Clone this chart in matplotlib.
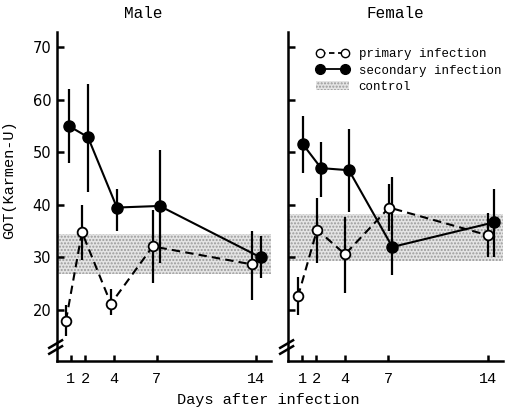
import matplotlib.pyplot as plt
from matplotlib.lines import Line2D
from matplotlib.patches import Patch

days = [1, 2, 4, 7, 14]

# male (x positions are slightly staggered around each day)
male_prim_x = [0.65, 1.77, 3.8, 6.73, 13.66]
male_prim = [18.0, 34.8, 21.2, 32.1, 28.7]
male_prim_lo = [15.0, 29.5, 19.0, 25.2, 22.0]
male_prim_hi = [21.0, 40.0, 24.0, 39.0, 35.0]

male_sec_x = [0.86, 2.19, 4.22, 7.22, 14.3]
male_sec = [55.0, 52.9, 39.5, 39.8, 30.0]
male_sec_lo = [48.0, 42.5, 35.0, 29.0, 26.0]
male_sec_hi = [62.0, 63.0, 43.0, 50.4, 34.0]

male_control = (26.8, 34.4)

# female
fem_prim_x = [0.72, 2.05, 4.0, 7.08, 14.0]
fem_prim = [22.6, 35.3, 30.6, 39.5, 34.2]
fem_prim_lo = [19.1, 29.0, 23.3, 35.0, 30.0]
fem_prim_hi = [26.2, 41.4, 37.7, 44.0, 38.4]

fem_sec_x = [1.07, 2.33, 4.27, 7.3, 14.42]
fem_sec = [51.5, 47.0, 46.6, 32.0, 36.7]
fem_sec_lo = [46.0, 41.5, 38.6, 26.6, 30.0]
fem_sec_hi = [57.0, 52.0, 54.5, 45.3, 43.1]

fem_control = (29.4, 38.2)

yticks = [20, 30, 40, 50, 60, 70]
mono = 'Liberation Mono'

W, H = 514, 409
fig = plt.figure(figsize=(W / 100, H / 100), dpi=100)
ax_m = fig.add_axes([56.7 / W, (H - 361) / H, 214 / W, 329 / H])
ax_f = fig.add_axes([287.7 / W, (H - 361) / H, 215 / W, 329 / H])


def panel(ax, px, p, plo, phi, sx, s, slo, shi, ctrl):
    ax.axhspan(ctrl[0], ctrl[1], facecolor='#e4e4e4', edgecolor='#9a9a9a',
               hatch='.....', linewidth=0, zorder=0)
    ax.errorbar(px, p, yerr=[[v - l for v, l in zip(p, plo)], [h - v for v, h in zip(p, phi)]],
                fmt='none', ecolor='black', elinewidth=1.6, capsize=0, zorder=2)
    ax.errorbar(sx, s, yerr=[[v - l for v, l in zip(s, slo)], [h - v for v, h in zip(s, shi)]],
                fmt='none', ecolor='black', elinewidth=1.6, capsize=0, zorder=2)
    ax.plot(px, p, ls=(0, (4, 2.5)), color='black', lw=1.5, marker='o', ms=7,
            mfc='white', mec='black', mew=1.3, zorder=4)
    ax.plot(sx, s, ls='-', color='black', lw=1.5, marker='o', ms=8,
            mfc='black', mec='black', zorder=3)

    ax.set_xlim(0, 15)
    ax.set_ylim(10.3, 72.9)
    for side in ('top', 'right'):
        ax.spines[side].set_visible(False)
    for side in ('left', 'bottom'):
        ax.spines[side].set_linewidth(1.8)
    ax.set_xticks(days)
    ax.set_xticklabels([str(d) for d in days], fontfamily=mono, fontsize=11)
    ax.set_yticks(yticks)
    ax.tick_params(direction='in', length=5, width=1.8)
    ax.tick_params(axis='x', length=4, pad=8)

    # axis break marks on the y axis
    for dy in (0.0, 0.018):
        ax.plot([-0.035, 0.025], [0.022 + dy, 0.045 + dy], transform=ax.transAxes,
                color='black', lw=1.8, clip_on=False, zorder=6)


panel(ax_m, male_prim_x, male_prim, male_prim_lo, male_prim_hi,
      male_sec_x, male_sec, male_sec_lo, male_sec_hi, male_control)
panel(ax_f, fem_prim_x, fem_prim, fem_prim_lo, fem_prim_hi,
      fem_sec_x, fem_sec, fem_sec_lo, fem_sec_hi, fem_control)

ax_m.set_yticklabels([str(t) for t in yticks], fontsize=10.5)
ax_m.tick_params(axis='y', pad=4)
ax_f.set_yticklabels([])

ax_m.set_ylabel('GOT(Karmen-U)', fontfamily=mono, fontsize=11)
ax_m.yaxis.set_label_coords(-0.19, 0.55)

fig.text(143 / W, 1 - 14 / H, 'Male', ha='center', va='center', fontfamily=mono,
         fontsize=11.5)
fig.text(395 / W, 1 - 14 / H, 'Female', ha='center', va='center', fontfamily=mono,
         fontsize=11.5)
fig.text(268 / W, 1 - 400 / H, 'Days after infection', ha='center', va='center',
         fontfamily=mono, fontsize=11)

handles = [
    Line2D([0], [0], ls=(0, (3, 2)), color='black', lw=1.3, marker='o', ms=6,
           mfc='white', mec='black'),
    Line2D([0], [0], ls='-', color='black', lw=1.3, marker='o', ms=7,
           mfc='black', mec='black'),
    Patch(facecolor='#e4e4e4', edgecolor='#9a9a9a', hatch='.....', linewidth=0),
]
labels = ['primary infection', 'secondary infection', 'control']
ax_f.legend(handles, labels, loc='upper left', bbox_to_anchor=(0.08, 0.985),
            frameon=False, numpoints=2, handlelength=2.6, handletextpad=0.8,
            labelspacing=0.35, prop={'family': mono, 'size': 9})

fig.savefig('out.png', dpi=100)
